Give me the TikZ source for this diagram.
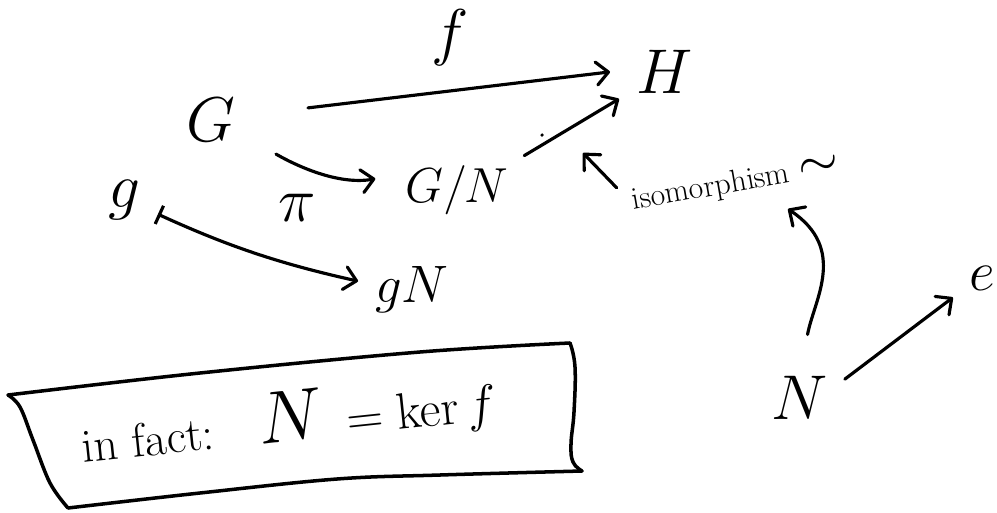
\RequirePackage{fix-cm}
\documentclass[tikz,border=0pt]{standalone}
\usetikzlibrary{arrows.meta}
\begin{document}
\begin{tikzpicture}[x=0.02cm, y=0.02cm, line width=1.8pt,
	line cap=round, line join=round,
	>={Straight Barb[length=2.4mm,width=4.6mm,round]},
	simb/.style  = {inner sep=0pt, font=\fontsize{36}{40}\selectfont},
	simbm/.style = {inner sep=0pt, font=\fontsize{28}{32}\selectfont},
	freccia/.style = {->},
	mappa/.style = {arrows={{Bar[width=4mm]}->}},
	]
	\useasboundingbox (0,0) rectangle (997,512);
	
	%% ── Oggetti ──────────────────────────────────────────────────────────────
	\node[simb]  (G)  at (211,392) {$G$};
	\node[simb]  (H)  at (665,440) {$H$};
	\node[simb]  (f)  at (450,474) {$f$};
	\node[simb]  (g)  at (124,312) {$g$};
	\node[simb]  (pi) at (297,304) {$\pi$};
	\node[simbm] (GN) at (457,322) {$G/N$};
	\node[simbm, font=\fontsize{30}{34}\selectfont] (gN) at (412,222) {$gN$};
	\node[simb]  (N)  at (800,114) {$N$};
	\node[simb, font=\fontsize{32}{36}\selectfont] (e) at (982,234) {$e$};
	
	%% ── Frecce del diagramma ─────────────────────────────────────────────────
	\draw[freccia, shorten <=1.43cm, shorten >=0.51cm] (G.8) -- (H.174);
	\draw[freccia, shorten <=0.9cm, shorten >=0.58cm]
	(G.-24) to[out=-30, in=190] (GN.163);
	\draw[mappa, shorten <=0.36cm, shorten >=0.32cm]
	(g.-21) to[bend right=6] (gN.172);
	\draw[freccia, shorten <=0.33cm, shorten >=0.38cm] (GN.26) -- (H.210);
	\fill (542,377) circle[radius=1pt];
	
	%% ── Isomorfismo ──────────────────────────────────────────────────────────
	\node[inner sep=0pt, font=\fontsize{18}{21}\selectfont, rotate=10,
	anchor=base west] (iso) at (632,302)
	{isomorphism\hspace{0.2cm}{\fontsize{30}{32}\selectfont$\sim$}};
	\coordinate (isoTip)  at (583,359);
	\coordinate (isoMark) at (788,303);
	\draw[freccia, shorten <=0.4cm] (iso.west) -- (isoTip);
	\draw[freccia, shorten <=0.82cm]
	(N.north) .. controls +(14,75) and +(60,-40) .. (isoMark);
	\draw[freccia, shorten <=0.38cm, shorten >=0.37cm] (N.14) -- (e.210);
	
	%% ── Riquadro ─────────────────────────────────────────────────────────────
	\begin{scope}[line width=2pt]
		\draw plot[smooth, tension=0.6] coordinates
		{(8,117) (200,139) (420,160) (570,169)};
		\draw plot[smooth, tension=0.7] coordinates
		{(570,169) (575,145) (574,100) (571,68) (573,50) (582,41)};
		\draw plot[smooth, tension=0.6] coordinates
		{(582,41) (440,37) (337,33) (200,19) (68,4)};
		\draw plot[smooth, tension=0.6] coordinates
		{(68,4) (50,29) (33,72) (20,105) (8,117)};
	\end{scope}
	\node[inner sep=0pt, rotate=6, anchor=base] (nota) at (291,71)
	{{\fontsize{27}{31}\selectfont in fact:}\hspace{0.9cm}%
		{\fontsize{42}{48}\selectfont$N$}\hspace{0.45cm}%
		{\fontsize{29}{34}\selectfont$=\ker f$}};
	
\end{tikzpicture}
\end{document}
